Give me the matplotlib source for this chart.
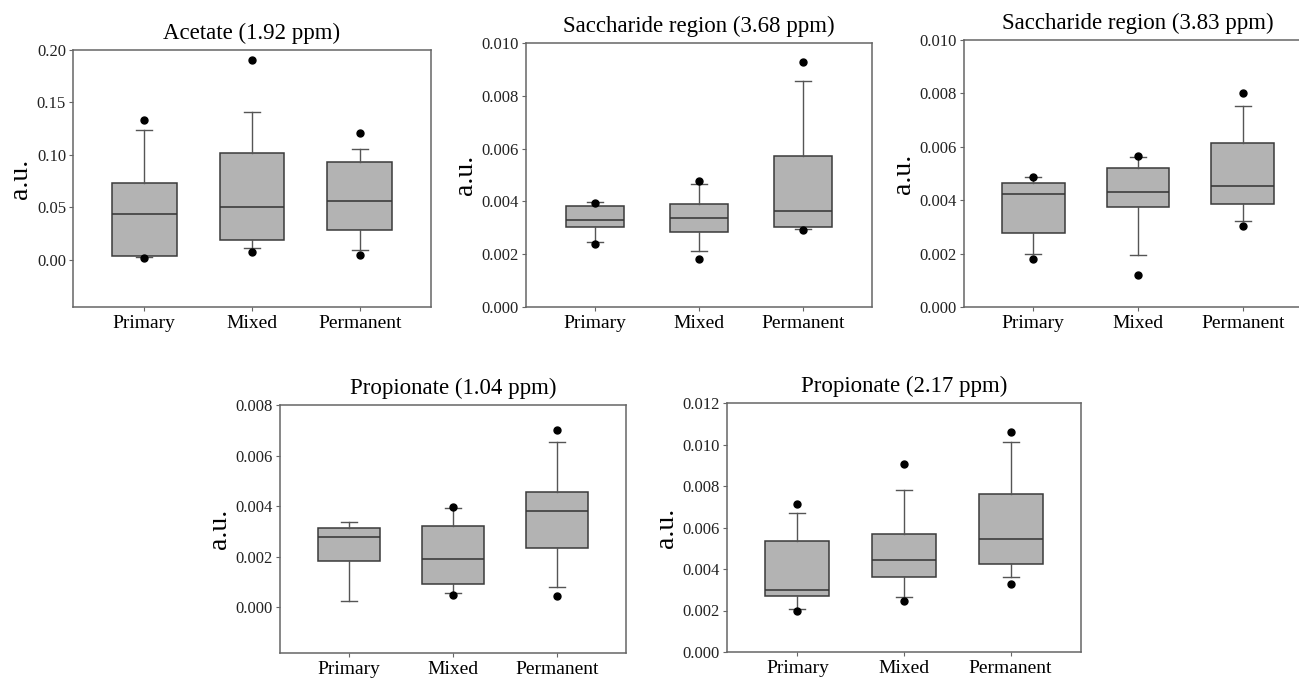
"""Box plots of metabolite intensities for the three dentition groups."""

import matplotlib

matplotlib.use("Agg")

import matplotlib.pyplot as plt
import numpy as np
from matplotlib.ticker import FormatStrFormatter

plt.rcParams["font.family"] = ["Liberation Serif", "DejaVu Serif"]

GROUPS = ["Primary", "Mixed", "Permanent"]

# per group: lower whisker, Q1, median, Q3, upper whisker
acetate_stats = [
    [0.0030, 0.0038, 0.0438, 0.0730, 0.1238],
    [0.0111, 0.0190, 0.0502, 0.1022, 0.1410],
    [0.0098, 0.0286, 0.0562, 0.0933, 0.1060],
]
acetate_fliers = [[0.0013, 0.1333], [0.0079, 0.1902], [0.0044, 0.1206]]

sacch368_stats = [
    [0.00248, 0.00304, 0.00329, 0.00381, 0.00396],
    [0.00211, 0.00285, 0.00337, 0.00392, 0.00465],
    [0.00294, 0.00303, 0.00363, 0.00572, 0.00857],
]
sacch368_fliers = [[0.00237, 0.00394], [0.00181, 0.00477], [0.00291, 0.00929]]

sacch383_stats = [
    [0.00198, 0.00278, 0.00425, 0.00465, 0.00488],
    [0.00196, 0.00373, 0.00431, 0.00521, 0.00563],
    [0.00321, 0.00386, 0.00453, 0.00613, 0.00753],
]
sacch383_fliers = [[0.00179, 0.00488], [0.00119, 0.00564], [0.00304, 0.00800]]

prop104_stats = [
    [0.00025, 0.00182, 0.00277, 0.00312, 0.00339],
    [0.00057, 0.00091, 0.00192, 0.00323, 0.00394],
    [0.00080, 0.00233, 0.00381, 0.00455, 0.00652],
]
prop104_fliers = [[], [0.00049, 0.00397], [0.00045, 0.00700]]

prop217_stats = [
    [0.00209, 0.00271, 0.00300, 0.00536, 0.00670],
    [0.00267, 0.00362, 0.00443, 0.00570, 0.00781],
    [0.00362, 0.00422, 0.00544, 0.00760, 0.01010],
]
prop217_fliers = [[0.00197, 0.00712], [0.00248, 0.00904], [0.00329, 0.01058]]

FIG_W, FIG_H = 1299, 679


def axes_rect(left, right, top, bottom):
    return [left / FIG_W, 1 - bottom / FIG_H, (right - left) / FIG_W, (bottom - top) / FIG_H]


def draw_panel(fig, rect, title, stats, fliers, ylim, yticks, fmt, box_width=0.6):
    ax = fig.add_axes(rect)
    bxp_stats = []
    for label, (lo, q1, med, q3, hi), out in zip(GROUPS, stats, fliers):
        bxp_stats.append(
            {"label": label, "whislo": lo, "q1": q1, "med": med, "q3": q3, "whishi": hi, "fliers": out}
        )
    ax.bxp(
        bxp_stats,
        positions=[1, 2, 3],
        widths=box_width,
        patch_artist=True,
        capwidths=0.15,
        boxprops={"facecolor": "#b3b3b3", "edgecolor": "#3a3a3a", "linewidth": 1.1},
        medianprops={"color": "#333333", "linewidth": 1.1},
        whiskerprops={"color": "#555555", "linewidth": 1.0},
        capprops={"color": "#555555", "linewidth": 1.0},
        flierprops={"marker": "o", "markerfacecolor": "black", "markeredgecolor": "black", "markersize": 5},
    )
    ax.set_xlim(0.34, 3.66)
    ax.set_ylim(*ylim)
    ax.set_yticks(yticks)
    ax.yaxis.set_major_formatter(FormatStrFormatter(fmt))
    ax.set_xticks([1, 2, 3])
    ax.set_xticklabels(GROUPS, fontsize=14)
    ax.tick_params(axis="y", labelsize=12, length=3, color="#666666", pad=2, labelcolor="#222222")
    ax.tick_params(axis="x", length=3, color="#666666", pad=3)
    for spine in ax.spines.values():
        spine.set_color("#666666")
        spine.set_linewidth(1.1)
    ax.set_title(title, fontsize=16.5, pad=8)
    ax.set_ylabel("a.u.", fontsize=20, labelpad=3)
    return ax


fig = plt.figure(figsize=(FIG_W / 100, FIG_H / 100), dpi=100)

draw_panel(
    fig, axes_rect(73, 431, 50, 307), "Acetate (1.92 ppm)",
    acetate_stats, acetate_fliers, (-0.045, 0.20), np.arange(0, 0.201, 0.05), "%.2f",
)
draw_panel(
    fig, axes_rect(526, 872, 43, 307), "Saccharide region (3.68 ppm)",
    sacch368_stats, sacch368_fliers, (0, 0.010), np.arange(0, 0.0101, 0.002), "%.3f", box_width=0.56,
)
draw_panel(
    fig, axes_rect(964, 1312, 40, 307), "Saccharide region (3.83 ppm)",
    sacch383_stats, sacch383_fliers, (0, 0.010), np.arange(0, 0.0101, 0.002), "%.3f",
)
draw_panel(
    fig, axes_rect(280, 626, 405, 653), "Propionate (1.04 ppm)",
    prop104_stats, prop104_fliers, (-0.0018, 0.008), np.arange(0, 0.0081, 0.002), "%.3f",
)
draw_panel(
    fig, axes_rect(727, 1081, 403, 652), "Propionate (2.17 ppm)",
    prop217_stats, prop217_fliers, (0, 0.012), np.arange(0, 0.0121, 0.002), "%.3f",
)

fig.savefig("out.png", dpi=100)
